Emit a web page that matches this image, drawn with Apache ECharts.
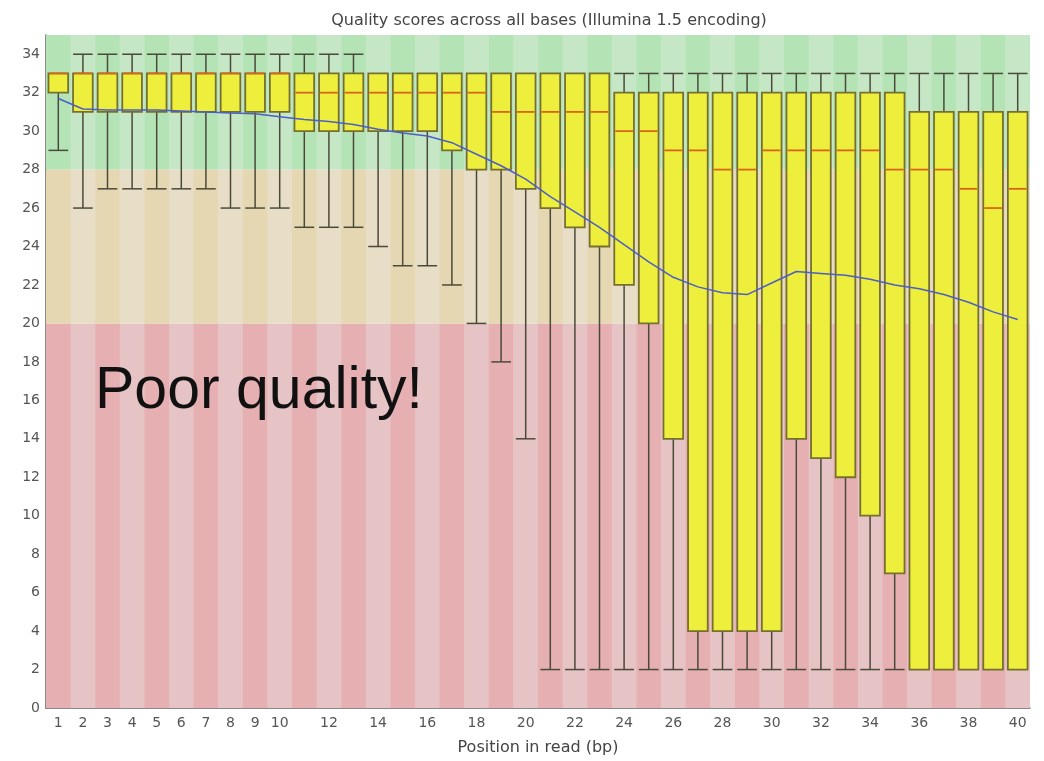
<!DOCTYPE html>
<html>
<head>
<meta charset="utf-8">
<script src="https://cdn.jsdelivr.net/npm/echarts@6/dist/echarts.min.js"></script>
<style>html,body{margin:0;padding:0;background:#fff}#chart{width:1044px;height:761px}</style>
</head>
<body>
<div id="chart"></div>
<script>
const positions = ['1','2','3','4','5','6','7','8','9','10','11','12','13','14','15','16','17','18','19','20','21','22','23','24','25','26','27','28','29','30','31','32','33','34','35','36','37','38','39','40'];
const lowerWhisker = [29,26,27,27,27,27,27,26,26,26,25,25,25,24,23,23,22,20,18,14,2,2,2,2,2,2,2,2,2,2,2,2,2,2,2,2,2,2,2,2];
const lowerQuartile = [32,31,31,31,31,31,31,31,31,31,30,30,30,30,30,30,29,28,28,27,26,25,24,22,20,14,4,4,4,4,14,13,12,10,7,2,2,2,2,2];
const medians = [33,33,33,33,33,33,33,33,33,33,32,32,32,32,32,32,32,32,31,31,31,31,31,30,30,29,29,28,28,29,29,29,29,29,28,28,28,27,26,27];
const upperQuartile = [33,33,33,33,33,33,33,33,33,33,33,33,33,33,33,33,33,33,33,33,33,33,33,32,32,32,32,32,32,32,32,32,32,32,32,31,31,31,31,31];
const upperWhisker = [33,34,34,34,34,34,34,34,34,34,34,34,34,33,33,33,33,33,33,33,33,33,33,33,33,33,33,33,33,33,33,33,33,33,33,33,33,33,33,33];
const means = [31.7,31.15,31.1,31.1,31.1,31.05,31.0,30.95,30.9,30.75,30.6,30.5,30.35,30.1,29.9,29.75,29.4,28.8,28.2,27.5,26.6,25.8,25.0,24.1,23.2,22.4,21.9,21.6,21.5,22.1,22.7,22.6,22.5,22.3,22.0,21.8,21.5,21.1,20.6,20.2];
const qualityZones = [[0,20],[20,28],[28,35]];

const zoneColors = [
  ['#e6afb1','#e6c3c4'],
  ['#e6d7b3','#e8dec8'],
  ['#b4e4b6','#c6e7c6']
];

const boxData = positions.map((p,i)=>[i, lowerWhisker[i], lowerQuartile[i], medians[i], upperQuartile[i], upperWhisker[i]]);
const bgData = positions.map((p,i)=>[i]);

const chart = echarts.init(document.getElementById('chart'));
const fontFam = 'DejaVu Sans';
chart.setOption({
  animation:false,
  title:{text:'Quality scores across all bases (Illumina 1.5 encoding)', left:544, top:8, textAlign:'center',
    textStyle:{fontFamily:fontFam, fontSize:16, fontWeight:'normal', color:'#444'}},
  grid:{left:46, right:14, top:35, bottom:52},
  xAxis:{type:'category', data:positions, boundaryGap:true,
    name:'Position in read (bp)', nameLocation:'middle', nameGap:32,
    nameTextStyle:{fontFamily:fontFam, fontSize:16, color:'#444'},
    axisLine:{lineStyle:{color:'#666', width:1.5}}, axisTick:{show:false},
    axisLabel:{interval:(i)=> i<10 || i%2===1, fontFamily:fontFam, fontSize:14, color:'#555', margin:8},
    splitLine:{show:false}},
  yAxis:{type:'value', min:0, max:35, interval:2,
    axisLine:{show:true, lineStyle:{color:'#666', width:1.5}}, axisTick:{show:false},
    axisLabel:{formatter:(v)=> v%2===0 ? String(v) : '', fontFamily:fontFam, fontSize:14, color:'#555', margin:6},
    splitLine:{show:false}},
  graphic:[{type:'text', left:95, top:362, z:100,
    style:{text:'Poor quality!', fontFamily:'Liberation Sans', fontSize:59, fill:'#111'}}],
  series:[
    {type:'custom', name:'bg', data:bgData, silent:true, z:1, clip:true,
     encode:{x:0},
     renderItem:function(params, api){
       const idx = api.value(0);
       const w = api.size([1,0])[0];
       const children = qualityZones.map((zone,z)=>{
         const p0 = api.coord([idx, zone[0]]);
         const p1 = api.coord([idx, zone[1]]);
         return {type:'rect', shape:{x:p0[0]-w/2, y:p1[1], width:w+0.5, height:p0[1]-p1[1]},
           style:{fill: zoneColors[z][idx%2]}};
       });
       return {type:'group', children};
     }},
    {type:'custom', name:'quality', data:boxData, z:3,
     encode:{x:0, y:[1,2,3,4,5]},
     renderItem:function(params, api){
       const idx = api.value(0);
       const bw = api.size([1,0])[0]*0.8;
       const pl = api.coord([idx, api.value(1)]);
       const pq1 = api.coord([idx, api.value(2)]);
       const pm = api.coord([idx, api.value(3)]);
       const pq3 = api.coord([idx, api.value(4)]);
       const ph = api.coord([idx, api.value(5)]);
       const cx = pl[0];
       const wStyle = {stroke:'#4a4a3a', lineWidth:1.5};
       const children = [];
       if (api.value(1) < api.value(2)) {
         children.push({type:'line', shape:{x1:cx,y1:pl[1],x2:cx,y2:pq1[1]}, style:wStyle});
         children.push({type:'line', shape:{x1:cx-bw/2,y1:pl[1],x2:cx+bw/2,y2:pl[1]}, style:wStyle});
       }
       if (api.value(5) > api.value(4)) {
         children.push({type:'line', shape:{x1:cx,y1:ph[1],x2:cx,y2:pq3[1]}, style:wStyle});
         children.push({type:'line', shape:{x1:cx-bw/2,y1:ph[1],x2:cx+bw/2,y2:ph[1]}, style:wStyle});
       }
       children.push({type:'rect', shape:{x:cx-bw/2, y:pq3[1], width:bw, height:pq1[1]-pq3[1]},
         style:{fill:'#eeee3c', stroke:'#76702e', lineWidth:1.8}});
       children.push({type:'line', shape:{x1:cx-bw/2+1,y1:pm[1],x2:cx+bw/2-1,y2:pm[1]},
         style:{stroke:'#d8661a', lineWidth:1.8}});
       return {type:'group', children};
     }},
    {type:'line', name:'mean', data:means, z:5, symbol:'none', smooth:false,
     lineStyle:{color:'#4b5fc4', width:1.5}}
  ]
});
</script>
</body>
</html>
